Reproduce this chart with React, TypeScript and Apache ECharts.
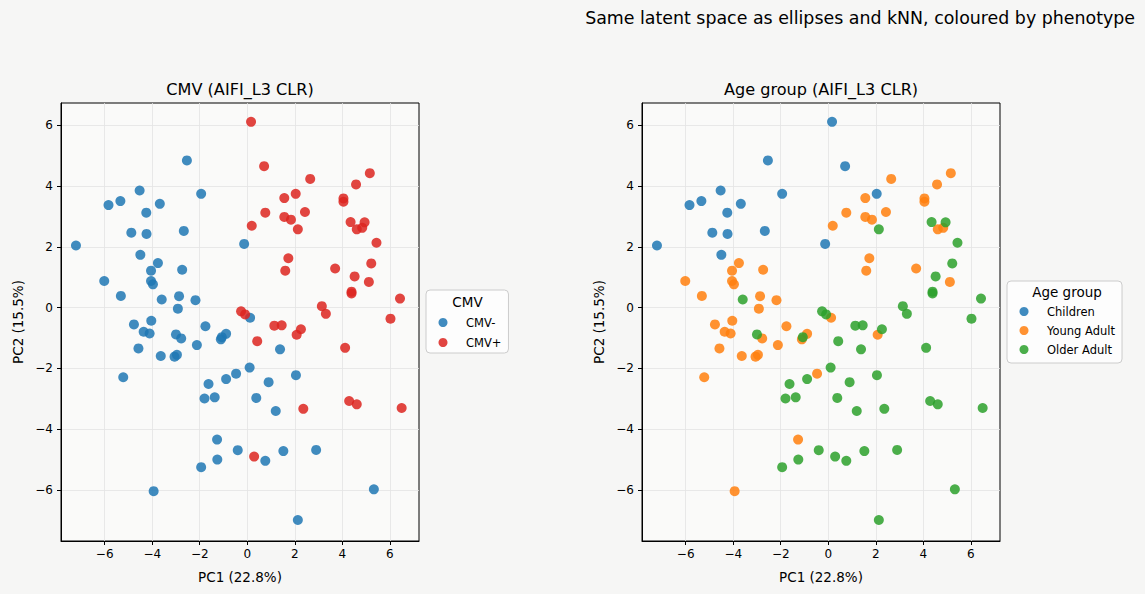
import React, { useEffect, useRef } from "react";
import * as echarts from "echarts";

// PCA coordinates of each sample (PC1, PC2) and its phenotype labels
const pc1 = [
  -2.54, -4.53, -5.34, -5.84, -1.94, -3.68, -4.25, -4.88, -4.24, -2.67, -7.21, -4.5,
  -3.76, -4.05, -2.74, -6.02, -4.05, -3.97, -5.32, -3.6, -2.87, -2.18, -2.92,
  0.16, 0.71, 2.65, 5.16, 4.58, 1.56, 2.04, 4.05, 4.05, 0.76, 2.43, 1.56, 1.84, 2.13,
  0.19, -0.13, 4.35, 4.94, 4.61, 4.84, 5.44, 1.73, 1.6, 3.7, 5.22, 4.52, 5.12, 4.39,
  4.39, 6.43, 3.14, 3.31, 6.03, -0.26, -0.09, 0.12,
  -4.77, -4.04, -4.36, -4.11, -4.58, -3.0, -2.78, -1.76, -2.12, -3.64, -3.06, -2.96,
  -1.11, -1.07, -0.89, -5.22, -0.47, -0.89, -1.63, -1.8, -1.37, -1.27, -0.4, -1.26,
  -1.94, -3.94,
  1.14, 1.45, 2.26, 2.08, 0.42, 1.38, 4.12, 0.1, 2.05, 0.9, 0.38, 1.2, 2.36, 4.29,
  4.61, 6.5, 0.29, 0.76, 1.52, 2.9, 5.33, 2.13,
];

const pc2 = [
  4.85, 3.86, 3.51, 3.38, 3.75, 3.42, 3.13, 2.47, 2.43, 2.53, 2.05, 1.74,
  1.47, 1.22, 1.25, 0.88, 0.88, 0.77, 0.39, 0.27, 0.38, 0.25, -0.03,
  6.12, 4.66, 4.24, 4.43, 4.06, 3.61, 3.75, 3.6, 3.49, 3.13, 3.15, 2.99, 2.9, 2.58,
  2.7, 2.1, 2.82, 2.81, 2.58, 2.63, 2.14, 1.63, 1.22, 1.29, 1.46, 1.03, 0.85, 0.53,
  0.47, 0.3, 0.05, -0.2, -0.36, -0.12, -0.22, -0.33,
  -0.55, -0.43, -0.79, -0.85, -1.34, -0.88, -1.01, -0.61, -1.23, -1.59, -1.61, -1.55,
  -1.04, -0.97, -0.86, -2.29, -2.17, -2.35, -2.51, -2.99, -2.95, -4.34, -4.69, -5.0,
  -5.25, -6.04,
  -0.59, -0.58, -0.71, -0.89, -1.1, -1.37, -1.32, -1.97, -2.22, -2.45, -2.97, -3.4,
  -3.33, -3.07, -3.18, -3.3, -4.9, -5.04, -4.72, -4.68, -5.98, -6.99,
];

const cmvStatus = [
  "CMV-", "CMV-", "CMV-", "CMV-", "CMV-", "CMV-", "CMV-", "CMV-", "CMV-", "CMV-", "CMV-", "CMV-",
  "CMV-", "CMV-", "CMV-", "CMV-", "CMV-", "CMV-", "CMV-", "CMV-", "CMV-", "CMV-", "CMV-",
  "CMV+", "CMV+", "CMV+", "CMV+", "CMV+", "CMV+", "CMV+", "CMV+", "CMV+", "CMV+", "CMV+", "CMV+", "CMV+", "CMV+",
  "CMV+", "CMV-", "CMV+", "CMV+", "CMV+", "CMV+", "CMV+", "CMV+", "CMV+", "CMV+", "CMV+", "CMV+", "CMV+", "CMV+",
  "CMV+", "CMV+", "CMV+", "CMV+", "CMV+", "CMV+", "CMV+", "CMV-",
  "CMV-", "CMV-", "CMV-", "CMV-", "CMV-", "CMV-", "CMV-", "CMV-", "CMV-", "CMV-", "CMV-", "CMV-",
  "CMV-", "CMV-", "CMV-", "CMV-", "CMV-", "CMV-", "CMV-", "CMV-", "CMV-", "CMV-", "CMV-", "CMV-",
  "CMV-", "CMV-",
  "CMV+", "CMV+", "CMV+", "CMV+", "CMV+", "CMV-", "CMV+", "CMV-", "CMV-", "CMV-", "CMV-", "CMV-",
  "CMV+", "CMV+", "CMV+", "CMV+", "CMV+", "CMV-", "CMV-", "CMV-", "CMV-", "CMV-",
];

const ageGroup = [
  "Children", "Children", "Children", "Children", "Children", "Children", "Children", "Children",
  "Children", "Children", "Children", "Children",
  "Young Adult", "Young Adult", "Young Adult", "Young Adult", "Young Adult", "Young Adult",
  "Young Adult", "Older Adult", "Young Adult", "Young Adult", "Young Adult",
  "Children", "Children", "Young Adult", "Young Adult", "Young Adult", "Young Adult", "Children",
  "Young Adult", "Young Adult", "Young Adult", "Young Adult", "Young Adult", "Young Adult", "Older Adult",
  "Young Adult", "Children", "Older Adult", "Older Adult", "Young Adult", "Young Adult", "Older Adult",
  "Young Adult", "Young Adult", "Young Adult", "Older Adult", "Older Adult", "Young Adult", "Older Adult",
  "Older Adult", "Older Adult", "Older Adult", "Older Adult", "Older Adult", "Older Adult", "Older Adult",
  "Young Adult",
  "Young Adult", "Young Adult", "Young Adult", "Young Adult", "Young Adult", "Older Adult", "Young Adult",
  "Young Adult", "Young Adult", "Young Adult", "Young Adult", "Young Adult",
  "Young Adult", "Older Adult", "Young Adult", "Young Adult", "Young Adult", "Older Adult", "Older Adult",
  "Older Adult", "Older Adult", "Young Adult", "Older Adult", "Older Adult", "Older Adult", "Young Adult",
  "Older Adult", "Older Adult", "Older Adult", "Young Adult", "Older Adult", "Older Adult", "Older Adult",
  "Older Adult", "Older Adult", "Older Adult", "Older Adult", "Older Adult", "Older Adult", "Older Adult",
  "Older Adult", "Older Adult", "Older Adult", "Older Adult", "Older Adult", "Older Adult", "Older Adult",
  "Older Adult",
];

const cmvLevels = ["CMV-", "CMV+"];
const cmvColors = ["#1f77b4", "#dc2420"];
const ageLevels = ["Children", "Young Adult", "Older Adult"];
const ageColors = ["#1f77b4", "#ff7f0e", "#2ca02c"];

const tickValues = [-6, -4, -2, 0, 2, 4, 6];
const xRange = [-7.84, 7.23];
const yRange = [-7.68, 6.74];

const FONT = "DejaVu Sans";
const INK = "#000000";

const groupPoints = (labels: string[], level: string) =>
  labels.reduce<number[][]>((acc, lab, i) => {
    if (lab === level) acc.push([pc1[i], pc2[i]]);
    return acc;
  }, []);

const fmtTick = (v: number) => {
  if (Math.abs(v / 2 - Math.round(v / 2)) > 1e-6) return "";
  return v < 0 ? "\u2212" + Math.abs(v) : String(v);
};

const grids = [
  { left: 61, top: 103, width: 358, height: 438 },
  { left: 642, top: 103, width: 358, height: 438 },
];

function buildAxis(kind: "x" | "y", gridIndex: number) {
  const isX = kind === "x";
  return {
    type: "value",
    gridIndex,
    min: isX ? xRange[0] : yRange[0],
    max: isX ? xRange[1] : yRange[1],
    splitNumber: 7,
    name: isX ? "PC1 (22.8%)" : "PC2 (15.5%)",
    nameLocation: "middle",
    nameGap: isX ? 29 : 36,
    nameTextStyle: { fontFamily: FONT, fontSize: 13.5, color: INK },
    axisLine: { show: true, onZero: false, lineStyle: { color: INK, width: 1 } },
    axisTick: {
      show: true,
      inside: false,
      length: 4,
      customValues: tickValues,
      lineStyle: { color: INK, width: 1 },
    },
    axisLabel: {
      show: true,
      customValues: tickValues,
      margin: isX ? 7 : 8,
      fontFamily: FONT,
      fontSize: 12,
      color: INK,
      formatter: fmtTick,
    },
    splitLine: { show: true, lineStyle: { color: "#e3e3e3", width: 0.8 } },
  };
}

function buildSeries() {
  const out: any[] = [];
  cmvLevels.forEach((lvl, k) => {
    out.push({
      type: "scatter",
      name: lvl,
      xAxisIndex: 0,
      yAxisIndex: 0,
      data: groupPoints(cmvStatus, lvl),
      symbolSize: 10,
      itemStyle: { color: cmvColors[k], opacity: 0.85 },
      emphasis: { disabled: true },
    });
  });
  ageLevels.forEach((lvl, k) => {
    out.push({
      type: "scatter",
      name: lvl,
      xAxisIndex: 1,
      yAxisIndex: 1,
      data: groupPoints(ageGroup, lvl),
      symbolSize: 10,
      itemStyle: { color: ageColors[k], opacity: 0.85 },
      emphasis: { disabled: true },
    });
  });
  return out;
}

const legendBase = {
  orient: "vertical",
  icon: "circle",
  itemWidth: 9,
  itemHeight: 9,
  selectedMode: false,
  backgroundColor: "rgba(255,255,255,0.8)",
  borderColor: "#cccccc",
  borderWidth: 1,
  borderRadius: 4,
  textStyle: {
    fontFamily: FONT,
    fontSize: 11.5,
    color: INK,
    lineHeight: 13,
    padding: [0, 0, 0, 13.5],
  },
};

export default function App() {
  const ref = useRef<HTMLDivElement>(null);

  useEffect(() => {
    if (!ref.current) return;
    const chart = echarts.init(ref.current, null, { renderer: "svg" });
    chart.setOption({
      animation: false,
      backgroundColor: "#f6f6f5",
      textStyle: { fontFamily: FONT },
      grid: grids.map((g) => ({
        ...g,
        show: true,
        backgroundColor: "#fafaf9",
        borderColor: INK,
        borderWidth: 1,
        containLabel: false,
      })),
      xAxis: [buildAxis("x", 0), buildAxis("x", 1)],
      yAxis: [buildAxis("y", 0), buildAxis("y", 1)],
      legend: [
        {
          ...legendBase,
          data: cmvLevels,
          left: 426,
          top: 290,
          itemGap: 7,
          padding: [26, 7, 4, 12.5],
        },
        {
          ...legendBase,
          data: ageLevels,
          left: 1007,
          top: 281,
          itemGap: 6,
          padding: [24, 7, 7, 12.5],
        },
      ],
      graphic: [
        {
          type: "text",
          x: 1135,
          y: 18,
          style: {
            text: "Same latent space as ellipses and kNN, coloured by phenotype",
            fontFamily: FONT,
            fontSize: 17.4,
            fill: INK,
            textAlign: "right",
            textVerticalAlign: "middle",
          },
        },
        {
          type: "text",
          x: 240,
          y: 89,
          style: {
            text: "CMV (AIFI_L3 CLR)",
            fontFamily: FONT,
            fontSize: 16.1,
            fill: INK,
            textAlign: "center",
            textVerticalAlign: "middle",
          },
        },
        {
          type: "text",
          x: 821,
          y: 89,
          style: {
            text: "Age group (AIFI_L3 CLR)",
            fontFamily: FONT,
            fontSize: 16.1,
            fill: INK,
            textAlign: "center",
            textVerticalAlign: "middle",
          },
        },
        {
          type: "text",
          x: 467.5,
          y: 302,
          z: 10,
          style: {
            text: "CMV",
            fontFamily: FONT,
            fontSize: 13.5,
            fill: INK,
            textAlign: "center",
            textVerticalAlign: "middle",
          },
        },
        {
          type: "text",
          x: 1067,
          y: 292,
          z: 10,
          style: {
            text: "Age group",
            fontFamily: FONT,
            fontSize: 13.5,
            fill: INK,
            textAlign: "center",
            textVerticalAlign: "middle",
          },
        },
      ],
      series: buildSeries(),
    });
    return () => chart.dispose();
  }, []);

  return (
    <div
      ref={ref}
      style={{ position: "fixed", left: 0, top: 0, width: 1145, height: 594 }}
    />
  );
}
